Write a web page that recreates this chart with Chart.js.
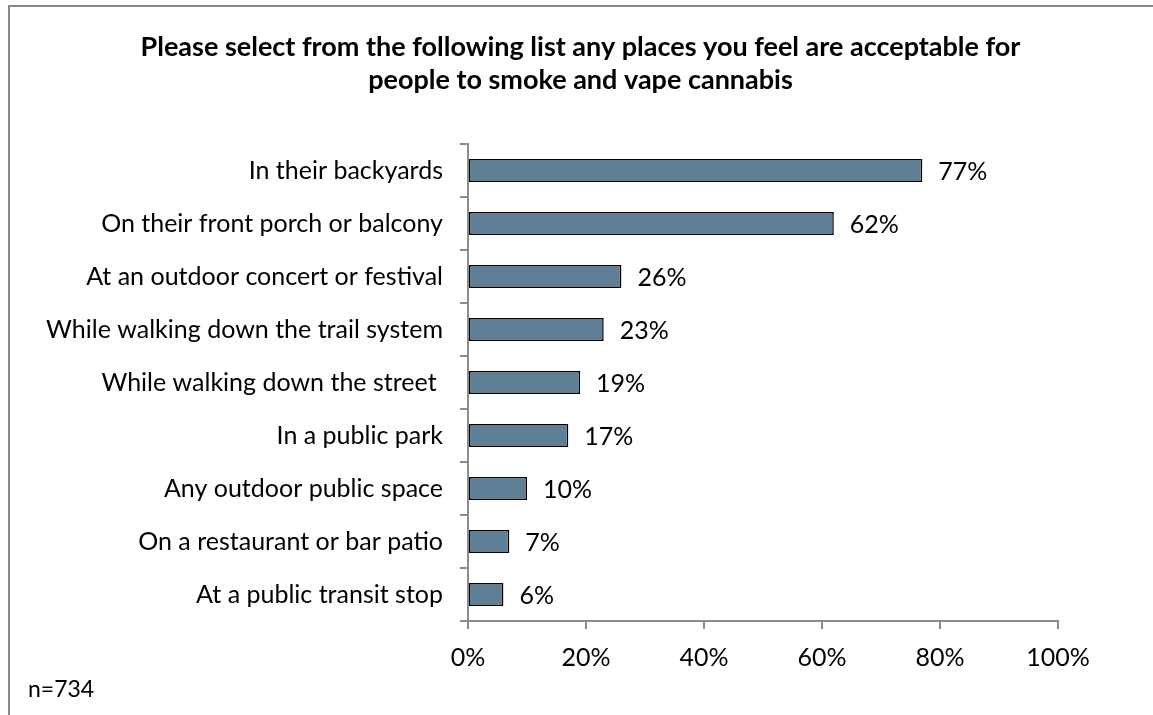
<!DOCTYPE html>
<html>
<head>
<meta charset="utf-8">
<script src="https://cdn.jsdelivr.net/npm/chart.js@4/dist/chart.umd.min.js"></script>
<style>
  html, body { margin: 0; padding: 0; background: #ffffff; }
  canvas { display: block; }
</style>
</head>
<body>
<canvas id="chart" width="1153" height="715"></canvas>
<script>
// Survey answers: places considered acceptable to smoke / vape cannabis
const places = [
  'In their backyards',
  'On their front porch or balcony',
  'At an outdoor concert or festival',
  'While walking down the trail system',
  'While walking down the street ',
  'In a public park',
  'Any outdoor public space',
  'On a restaurant or bar patio',
  'At a public transit stop'
];
const acceptablePct = [77, 62, 26, 23, 19, 17, 10, 7, 6];
const pctTicks = [0, 20, 40, 60, 80, 100];
const titleLines = [
  'Please select from the following list any places you feel are acceptable for',
  'people to smoke and vape cannabis'
];
const sampleNote = 'n=734';
const captionFragment = 'g';

const FONT = 'Lato, "Open Sans", sans-serif';
const AXIS_GREY = '#8c8c8c';
const LABEL_SIZE = 25;

// Frame, heading and footnote drawn around the plot
const decorations = {
  id: 'decorations',
  beforeDraw(chart) {
    const ctx = chart.ctx;
    ctx.save();
    ctx.fillStyle = '#ffffff';
    ctx.fillRect(0, 0, chart.width, chart.height);
    ctx.strokeStyle = '#878787';
    ctx.lineWidth = 2;
    ctx.beginPath();
    ctx.moveTo(9, chart.height + 2);
    ctx.lineTo(9, 6);
    ctx.lineTo(chart.width + 2, 6);
    ctx.stroke();
    ctx.restore();
  },
  afterDraw(chart) {
    const ctx = chart.ctx;
    ctx.save();
    ctx.fillStyle = '#000000';
    ctx.textAlign = 'center';
    ctx.textBaseline = 'middle';
    ctx.font = 'bold 27px ' + FONT;
    const cx = 580.5;
    ctx.fillText(titleLines[0], cx, 47);
    ctx.fillText(titleLines[1], cx, 80);
    ctx.textAlign = 'left';
    ctx.font = '23px ' + FONT;
    ctx.fillText(sampleNote, 28, 690);
    ctx.textBaseline = 'alphabetic';
    ctx.fillStyle = '#555555';
    ctx.fillText(captionFragment, 8, -4);
    ctx.restore();
  }
};

// Percentage labels at the end of each bar
const valueLabels = {
  id: 'valueLabels',
  afterDatasetsDraw(chart) {
    const ctx = chart.ctx;
    const meta = chart.getDatasetMeta(0);
    const data = chart.data.datasets[0].data;
    ctx.save();
    ctx.fillStyle = '#000000';
    ctx.font = LABEL_SIZE + 'px ' + FONT;
    ctx.textAlign = 'left';
    ctx.textBaseline = 'middle';
    meta.data.forEach((bar, i) => {
      ctx.fillText(data[i] + '%', bar.x + 16, bar.y + 1);
    });
    ctx.restore();
  }
};

new Chart(document.getElementById('chart'), {
  type: 'bar',
  data: {
    labels: places,
    datasets: [{
      data: acceptablePct,
      backgroundColor: '#5f7f96',
      borderColor: '#000000',
      borderWidth: 1.5,
      borderSkipped: false,
      barPercentage: 0.43,
      categoryPercentage: 1
    }]
  },
  options: {
    indexAxis: 'y',
    responsive: false,
    animation: false,
    devicePixelRatio: 1,
    layout: { padding: { top: 144, right: 95, bottom: 0, left: 0 } },
    plugins: {
      legend: { display: false },
      tooltip: { enabled: false },
      title: { display: false }
    },
    scales: {
      x: {
        min: 0,
        max: 100,
        afterBuildTicks(scale) {
          scale.ticks = pctTicks.map(v => ({ value: v }));
        },
        afterFit(scale) { scale.height = 94; },
        grid: { drawOnChartArea: false, drawTicks: true, tickLength: 8, color: AXIS_GREY, lineWidth: 2 },
        border: { color: AXIS_GREY, width: 2 },
        ticks: {
          color: '#000000',
          font: { family: FONT, size: LABEL_SIZE },
          padding: 14,
          maxRotation: 0,
          callback: v => v + '%'
        }
      },
      y: {
        afterFit(scale) { scale.width = 468; },
        grid: { offset: true, drawOnChartArea: false, drawTicks: true, tickLength: 8, color: AXIS_GREY, lineWidth: 2 },
        border: { color: AXIS_GREY, width: 2 },
        ticks: {
          color: '#000000',
          font: { family: FONT, size: LABEL_SIZE },
          padding: 17,
          autoSkip: false
        }
      }
    }
  },
  plugins: [decorations, valueLabels]
});
</script>
</body>
</html>
